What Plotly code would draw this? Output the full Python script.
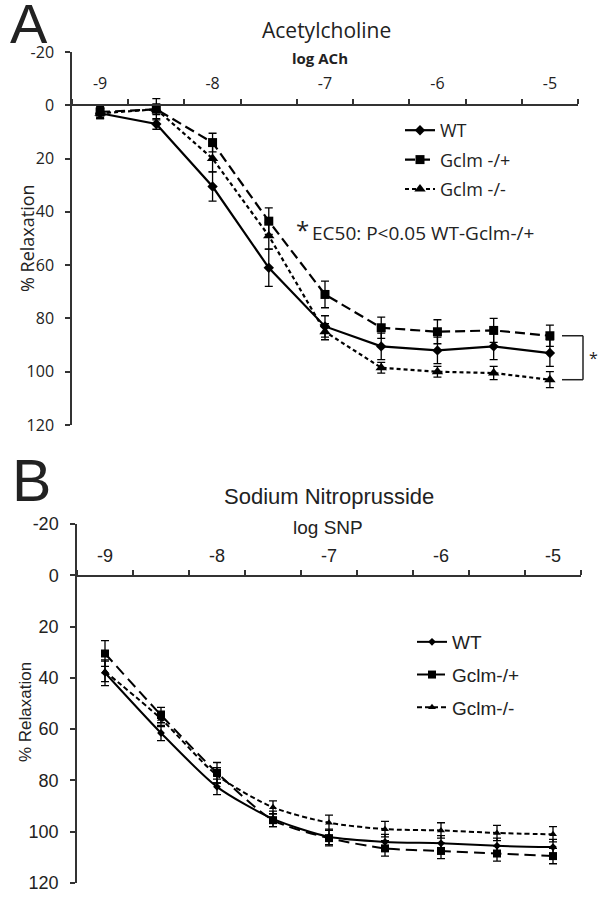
import plotly.graph_objects as go

# ---------------- data ----------------
log_dose = [-9, -8.5, -8, -7.5, -7, -6.5, -6, -5.5, -5]
x_tick_vals = [-9, -8, -7, -6, -5]
x_tick_text = ["-9", "-8", "-7", "-6", "-5"]
y_tick_vals = [-20, 0, 20, 40, 60, 80, 100, 120]
y_tick_text = ["-20", "0", "20", "40", "60", "80", "100", "120"]

# Panel A: Acetylcholine (% relaxation)
ach_wt = [3, 7, 30.5, 61, 83, 90.5, 92, 90.5, 93]
ach_wt_err = [2, 2, 5.5, 7, 4, 5, 5, 5, 5]
ach_het = [2.5, 1.5, 14, 43.5, 71, 83.5, 85, 84.5, 86.5]
ach_het_err = [2, 4, 3.5, 5, 5, 4, 4.5, 4.5, 4]
ach_ko = [3, 1.5, 20, 49, 85, 98.5, 100, 100.5, 103]
ach_ko_err = [2, 2, 5, 5, 3, 2, 2, 2.5, 3]

# Panel B: Sodium nitroprusside (% relaxation)
snp_wt = [38, 61.5, 82.5, 95, 102, 104, 104.5, 105.5, 106]
snp_wt_err = [5, 3, 3, 3, 3, 3, 3, 3, 3]
snp_het = [30.5, 54.5, 77, 95.5, 102.5, 106.5, 107.5, 108.5, 109.5]
snp_het_err = [5, 3, 4, 2.5, 3, 3, 3, 3, 3]
snp_ko = [37.5, 56, 78, 90.5, 96.5, 99, 99.5, 100.5, 101]
snp_ko_err = [4, 3, 3, 2.5, 3, 3, 3, 3, 3]

names_a = ["WT", "Gclm -/+", "Gclm -/-"]
names_b = ["WT", "Gclm-/+", "Gclm-/-"]

# ---------------- layout helpers ----------------
W, H = 602, 900
def fx(p):
    return p / W
def fy(p):
    return 1 - p / H

Y_MIN, Y_MAX = -20, 120
A = dict(left=72, right=578, top=52, bot=425, zero=105)
B = dict(left=77, right=581, top=524, bot=883, zero=576)

FA = "Open Sans"
FB = "Liberation Sans, Arial"

half = (log_dose[1] - log_dose[0]) / 2
x_range = [log_dose[0] - half, log_dose[-1] + half]
boundaries = [log_dose[0] - half] + [v + half for v in log_dose]

fig = go.Figure()

def add_set(vals, errs, name, dash, symbol, msize, xa, ya, legend, shape, err_w, lw):
    fig.add_trace(go.Scatter(
        x=log_dose, y=vals, name=name, mode="lines+markers",
        xaxis=xa, yaxis=ya, legend=legend, legendgroup=legend + name,
        line=dict(color="black", width=lw, dash=dash, shape=shape, smoothing=0.7),
        marker=dict(symbol=symbol, size=msize, color="black"),
        error_y=dict(type="data", array=errs, visible=True, color="black",
                     thickness=1.3, width=err_w),
    ))

add_set(ach_wt, ach_wt_err, names_a[0], "solid", "diamond", 8, "x", "y", "legend", "linear", 4, 2.2)
add_set(ach_het, ach_het_err, names_a[1], "10px,5px", "square", 9, "x", "y", "legend", "linear", 4, 2.2)
add_set(ach_ko, ach_ko_err, names_a[2], "4px,3px", "triangle-up", 10, "x", "y", "legend", "linear", 4, 2.2)

add_set(snp_wt, snp_wt_err, names_b[0], "solid", "diamond", 6, "x2", "y2", "legend2", "spline", 4, 2)
add_set(snp_het, snp_het_err, names_b[1], "11px,6px", "square", 8, "x2", "y2", "legend2", "spline", 4, 2)
add_set(snp_ko, snp_ko_err, names_b[2], "5px,3px", "triangle-up", 7, "x2", "y2", "legend2", "spline", 4, 2)


def xaxis_cfg(P, font, tlen):
    return dict(
        domain=[fx(P["left"]), fx(P["right"])], range=x_range, automargin=False,
        anchor="free", position=fy(P["zero"]), side="top",
        showline=True, linecolor="#333", linewidth=1.5,
        tickmode="array", tickvals=x_tick_vals, ticktext=x_tick_text,
        ticks="outside", ticklen=tlen, tickcolor="rgba(0,0,0,0)",
        tickfont=dict(family=font, size=16 if font == FA else 18, color="#222"),
        minor=dict(tickmode="array", tickvals=boundaries, ticks="outside",
                   ticklen=5, tickwidth=1.5, tickcolor="#333", showgrid=False),
        showgrid=False, zeroline=False,
    )

def yaxis_cfg(P, font, xa, standoff):
    return dict(
        domain=[fy(P["bot"]), fy(P["top"])], range=[Y_MAX, Y_MIN], automargin=False,
        anchor=xa, showline=True, linecolor="#333", linewidth=1.5,
        tickmode="array", tickvals=y_tick_vals, ticktext=y_tick_text,
        ticks="outside", ticklen=5, tickwidth=1.5, tickcolor="#333",
        ticklabelstandoff=standoff,
        tickfont=dict(family=font, size=16 if font == FA else 18, color="#222"),
        showgrid=False, zeroline=False,
    )

def note(text, x, y, font, size, **kw):
    d = dict(text=text, x=fx(x), y=fy(y), xref="paper", yref="paper", showarrow=False,
             xanchor="center", yanchor="middle",
             font=dict(family=font, size=size, color="#222"))
    d.update(kw)
    return d

annotations = [
    note("A", 29, 24, "Liberation Sans, Arial", 56),
    note("B", 31, 481, "Liberation Sans, Arial", 59),
    note("Acetylcholine", 327, 30, FA, 21),
    note("<b>log ACh</b>", 320, 58, FA, 15),
    note("Sodium Nitroprusside", 329, 497, FB, 22),
    note("log SNP", 328, 527, FB, 19),
    note("% Relaxation", 27, 238, FA, 18, textangle=-90),
    note("% Relaxation", 25, 712, FB, 17, textangle=-90),
    note("*", 302, 230, FA, 24),
    note("EC50: P<0.05 WT-Gclm-/+", 310, 233, FA, 19, xanchor="left"),
]

# significance bracket between last Gclm -/+ and Gclm -/- points of panel A
def ya_paper(v):
    frac = (v - Y_MIN) / (Y_MAX - Y_MIN)
    return fy(A["top"] + frac * (A["bot"] - A["top"]))

b_top = ya_paper(ach_het[-1])
b_bot = ya_paper(ach_ko[-1])
bx0, bx1 = fx(562), fx(583)
shapes = [
    dict(type="line", xref="paper", yref="paper", x0=bx0, x1=bx1, y0=b_top, y1=b_top,
         line=dict(color="#222", width=1.5)),
    dict(type="line", xref="paper", yref="paper", x0=bx1, x1=bx1, y0=b_top, y1=b_bot,
         line=dict(color="#222", width=1.5)),
    dict(type="line", xref="paper", yref="paper", x0=bx0, x1=bx1, y0=b_bot, y1=b_bot,
         line=dict(color="#222", width=1.5)),
]
annotations.append(dict(text="*", x=fx(593), y=(b_top + b_bot) / 2, xref="paper", yref="paper",
                        xanchor="center", yanchor="middle",
                        showarrow=False, font=dict(family=FA, size=16, color="#222")))

fig.update_layout(
    width=W, height=H, margin=dict(l=0, r=0, t=0, b=0),
    paper_bgcolor="white", plot_bgcolor="white",
    xaxis=xaxis_cfg(A, FA, 9), yaxis=yaxis_cfg(A, FA, "x", 8),
    xaxis2=xaxis_cfg(B, FB, 6), yaxis2=yaxis_cfg(B, FB, "x2", 8),
    legend=dict(x=fx(400), y=fy(112), xanchor="left", yanchor="top",
                font=dict(family=FA, size=18, color="#222"), tracegroupgap=3,
                bgcolor="rgba(0,0,0,0)", itemwidth=30),
    legend2=dict(x=fx(412), y=fy(623), xanchor="left", yanchor="top",
                 font=dict(family=FB, size=19, color="#222"), tracegroupgap=5,
                 bgcolor="rgba(0,0,0,0)", itemwidth=30),
    annotations=annotations, shapes=shapes,
    showlegend=True,
)

fig.write_html("out.html", config={"displayModeBar": False},
               post_script="document.body.style.margin='0';")
